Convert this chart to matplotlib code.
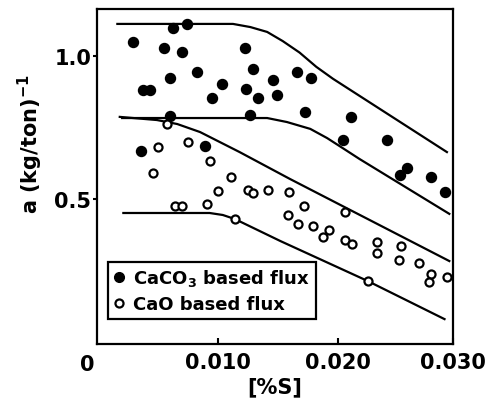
import matplotlib
matplotlib.use("Agg")
import matplotlib.pyplot as plt
from matplotlib.lines import Line2D

# Datos: [%S] contra a (kg/ton)^-1
caco3_s = [0.0029, 0.00625, 0.0074, 0.0055, 0.0070, 0.01225, 0.0060, 0.00825,
           0.00375, 0.0043, 0.0103, 0.0095, 0.01233, 0.0129, 0.0133, 0.0146,
           0.0149, 0.0166, 0.0178, 0.01725, 0.0060, 0.01267, 0.0036, 0.0089,
           0.0211, 0.0204, 0.0241, 0.02575, 0.0252, 0.0278, 0.0289]
caco3_a = [1.049, 1.098, 1.112, 1.028, 1.014, 1.028, 0.923, 0.944,
           0.881, 0.881, 0.902, 0.853, 0.885, 0.955, 0.853, 0.916,
           0.864, 0.944, 0.923, 0.804, 0.790, 0.794, 0.668, 0.685,
           0.787, 0.706, 0.706, 0.608, 0.584, 0.577, 0.524]

cao_s = [0.00575, 0.0050, 0.0075, 0.0093, 0.0046, 0.0111, 0.0100, 0.0125,
         0.0129, 0.0142, 0.0159, 0.0172, 0.0158, 0.0167, 0.0179, 0.0193,
         0.0188, 0.0206, 0.0206, 0.0212, 0.0233, 0.0233, 0.0253, 0.0251,
         0.0268, 0.0278, 0.0276, 0.0291, 0.0225, 0.0064, 0.0070, 0.0091,
         0.0114]
cao_a = [0.762, 0.682, 0.699, 0.633, 0.591, 0.577, 0.528, 0.531,
         0.521, 0.531, 0.524, 0.476, 0.444, 0.413, 0.406, 0.392,
         0.367, 0.455, 0.357, 0.343, 0.350, 0.311, 0.336, 0.287,
         0.276, 0.238, 0.210, 0.227, 0.213, 0.476, 0.476, 0.483,
         0.430]

# Curvas (vertices)
curva1_s = [0.0016, 0.01125, 0.0127, 0.0141, 0.0154, 0.0168, 0.0182, 0.0196, 0.0291]
curva1_a = [1.112, 1.112, 1.101, 1.084, 1.052, 1.012, 0.962, 0.920, 0.664]
curva2_s = [0.0020, 0.0141, 0.01575, 0.0177, 0.0191, 0.0204, 0.0218, 0.0293]
curva2_a = [0.783, 0.783, 0.769, 0.745, 0.713, 0.678, 0.640, 0.448]
curva3_s = [0.0018, 0.0049, 0.0066, 0.0085, 0.0118, 0.0160, 0.0293]
curva3_a = [0.787, 0.776, 0.762, 0.734, 0.664, 0.570, 0.283]
curva4_s = [0.0021, 0.0093, 0.0104, 0.0114, 0.0152, 0.0225, 0.0289]
curva4_a = [0.451, 0.451, 0.444, 0.430, 0.353, 0.213, 0.080]

xticks = [0.010, 0.020, 0.0296]
xtick_labels = ["0.010", "0.020", "0.030"]
yticks = [0.5, 1.0]
ytick_labels = ["0.5", "1.0"]

fig = plt.figure(figsize=(5.01, 4.02), dpi=100)
ax = fig.add_axes([0.1936, 0.1418, 0.7104, 0.8332])

for s, a in [(curva1_s, curva1_a), (curva2_s, curva2_a),
             (curva3_s, curva3_a), (curva4_s, curva4_a)]:
    ax.plot(s, a, color="black", lw=1.6, solid_joinstyle="round")

ax.plot(caco3_s, caco3_a, "o", color="black", ms=7.2, zorder=3)
ax.plot(cao_s, cao_a, "o", mfc="white", mec="black", mew=1.6, ms=5.8, zorder=3)

ax.set_xlim(-0.0001, 0.0296)
ax.set_ylim(-0.007, 1.164)

for sp in ax.spines.values():
    sp.set_linewidth(1.6)

ax.set_xticks(xticks)
ax.set_xticklabels(xtick_labels, fontsize=15, fontweight="bold")
ax.set_yticks(yticks)
ax.set_yticklabels(ytick_labels, fontsize=15, fontweight="bold")
ax.tick_params(axis="x", direction="in", length=4, width=1.5, pad=6)
ax.tick_params(axis="y", direction="out", length=3, width=1.5, pad=1)
ax.text(-0.028, -0.03, "0", transform=ax.transAxes, ha="center", va="top",
        fontsize=15, fontweight="bold")

ax.set_xlabel("[%S]", fontsize=15, fontweight="bold", labelpad=3)
ax.set_ylabel(r"a (kg/ton)$^{\mathbf{-1}}$", fontsize=15, fontweight="bold")
ax.yaxis.set_label_coords(-0.146, 0.6)

handles = [
    Line2D([], [], ls="none", marker="o", color="black", ms=7),
    Line2D([], [], ls="none", marker="o", mfc="white", mec="black", mew=1.6, ms=5.8),
]
labels = [r"CaCO$_{\mathbf{3}}$ based flux", "CaO based flux"]
leg = ax.legend(handles, labels, loc="lower left", bbox_to_anchor=(0.031, 0.075),
                prop={"size": 13, "weight": "bold"}, frameon=True, fancybox=False,
                edgecolor="black", framealpha=1, handlelength=0.6, handletextpad=0.5,
                borderpad=0.3, labelspacing=0.4, borderaxespad=0)
leg.get_frame().set_linewidth(1.6)

fig.savefig("out.png", dpi=100)
